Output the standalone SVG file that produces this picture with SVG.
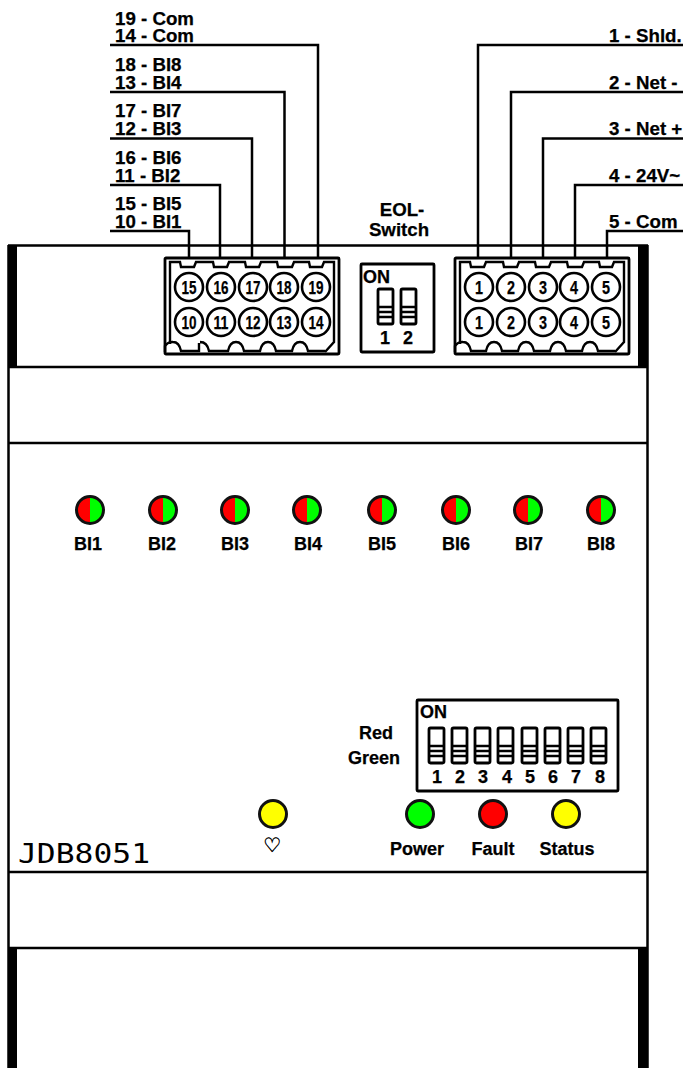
<svg xmlns="http://www.w3.org/2000/svg" width="687" height="1068" viewBox="0 0 687 1068">
<style>
text{font-family:"Liberation Sans",Arial,sans-serif;font-weight:bold;font-size:18px;fill:#000;stroke:#000;stroke-width:.25}
.w{font-size:18.7px}
.m{text-anchor:middle}
.l{fill:none;stroke:#000;stroke-width:2.5}
.h{fill:none;stroke:#000;stroke-width:2.4}
.c{fill:#fff;stroke:#000;stroke-width:2.6}
.d{fill:none;stroke:#000;stroke-width:2.8;stroke-linejoin:round}
.b{fill:#000}
.n{font-size:18.5px;text-anchor:middle}
.led{stroke:#111;stroke-width:3}
</style>
<defs>
<g id="tog"><rect class="d" x="0" y="0" width="15" height="35" rx="1.500"/><path d="M1 18h13M1 23h13M1 28h13" stroke="#000" stroke-width="2.400"/></g>
<g id="body">
<rect class="d" x="0" y="0" width="174" height="96" rx="1"/>
<path class="h" d="M5 86V4H15L16 9H29L31 4H48L49 9H62L64 4H80L81 9H94L96 4H112L113 9H127L129 4H144L145 9H157L159 4H169V84L160 94"/>
</g>
<g id="biled"><circle r="13.500" fill="#0f0"/><path d="M0-14A14 14 0 0 0 0 14Z" fill="#f00"/><circle r="13.500" fill="none" class="led"/></g>
</defs>
<g id="housing">
<rect class="b" x="8" y="245" width="9" height="122"/>
<rect class="b" x="638" y="245" width="10" height="122"/>
<rect class="b" x="8" y="948" width="9" height="120"/>
<rect class="b" x="638" y="948" width="10" height="120"/>
<path class="l" d="M8 245.500H648M8 367H648M8 443H648M8 872H648M8 948H648M8.500 245V1068M647.500 245V1068"/>
<text x="18" y="863" textLength="132" lengthAdjust="spacingAndGlyphs" style="font-family:'DejaVu Sans Mono',monospace;font-weight:normal;font-size:27px;stroke:none">JDB8051</text>
</g>
<g id="connectors">
<path class="l" d="M110 45H318V258M110 92H284.500V258M110 138.500H252V258M110 185H220V258M110 231H189V258"/>
<path class="l" d="M683 45H478V258M683 92H511V258M683 138.500H543V258M683 185H575V258M683 231H607V258"/>
</g>
<g id="wire-labels">
<text class="w" x="115" y="24.500">19 - Com</text><text class="w" x="115" y="42">14 - Com</text>
<text class="w" x="115" y="71">18 - BI8</text><text class="w" x="115" y="89">13 - BI4</text>
<text class="w" x="115" y="117">17 - BI7</text><text class="w" x="115" y="135">12 - BI3</text>
<text class="w" x="115" y="164">16 - BI6</text><text class="w" x="115" y="182">11 - BI2</text>
<text class="w" x="115" y="210">15 - BI5</text><text class="w" x="115" y="228">10 - BI1</text>
<text class="w" x="609" y="42">1 - Shld.</text><text class="w" x="609" y="89">2 - Net -</text>
<text class="w" x="609" y="135">3 - Net +</text><text class="w" x="609" y="182">4 - 24V~</text>
<text class="w" x="609" y="228">5 - Com</text>
</g>
<g id="terminal-left" transform="translate(165 258)">
<use href="#body"/>
<path class="h" d="M0 94V88A9 9 0 0 1 8 84C13 84 15 88 16 93H34V85M35 84C41 84 43 88 44 93H63C64 88 66 84 71 84C76 84 78 88 79 93H95C96 88 98 84 103 84C108 84 110 88 111 93H127C128 88 130 84 135 84C140 84 142 88 143 93H160"/>
<g class="c"><circle cx="24" cy="29" r="14"/><circle cx="56" cy="29" r="14"/><circle cx="88" cy="29" r="14"/><circle cx="119" cy="29" r="14"/><circle cx="151" cy="29" r="14"/><circle cx="24" cy="64" r="14"/><circle cx="56" cy="64" r="14"/><circle cx="88" cy="64" r="14"/><circle cx="119" cy="64" r="14"/><circle cx="151" cy="64" r="14"/></g>
<text class="n" x="24" y="36" textLength="15" lengthAdjust="spacingAndGlyphs">15</text><text class="n" x="56" y="36" textLength="15" lengthAdjust="spacingAndGlyphs">16</text><text class="n" x="88" y="36" textLength="15" lengthAdjust="spacingAndGlyphs">17</text><text class="n" x="119" y="36" textLength="15" lengthAdjust="spacingAndGlyphs">18</text><text class="n" x="151" y="36" textLength="15" lengthAdjust="spacingAndGlyphs">19</text>
<text class="n" x="24" y="71" textLength="15" lengthAdjust="spacingAndGlyphs">10</text><text class="n" x="56" y="71" textLength="15" lengthAdjust="spacingAndGlyphs">11</text><text class="n" x="88" y="71" textLength="15" lengthAdjust="spacingAndGlyphs">12</text><text class="n" x="119" y="71" textLength="15" lengthAdjust="spacingAndGlyphs">13</text><text class="n" x="151" y="71" textLength="15" lengthAdjust="spacingAndGlyphs">14</text>
</g>
<g id="terminal-right" transform="translate(455 258)">
<use href="#body"/>
<path class="h" d="M0 94V88A9 9 0 0 1 8 84C13 84 15 88 16 93H31C32 88 34 84 39 84C44 84 46 88 47 93H63C64 88 66 84 71 84C76 84 78 88 79 93H95C96 88 98 84 103 84C108 84 110 88 111 93H127C128 88 130 84 135 84C140 84 142 88 143 93H160"/>
<g class="c"><circle cx="24" cy="29" r="14"/><circle cx="56" cy="29" r="14"/><circle cx="88" cy="29" r="14"/><circle cx="119" cy="29" r="14"/><circle cx="151" cy="29" r="14"/><circle cx="24" cy="64" r="14"/><circle cx="56" cy="64" r="14"/><circle cx="88" cy="64" r="14"/><circle cx="119" cy="64" r="14"/><circle cx="151" cy="64" r="14"/></g>
<text class="n" x="24" y="36" textLength="8" lengthAdjust="spacingAndGlyphs">1</text><text class="n" x="56" y="36" textLength="8" lengthAdjust="spacingAndGlyphs">2</text><text class="n" x="88" y="36" textLength="8" lengthAdjust="spacingAndGlyphs">3</text><text class="n" x="119" y="36" textLength="8" lengthAdjust="spacingAndGlyphs">4</text><text class="n" x="151" y="36" textLength="8" lengthAdjust="spacingAndGlyphs">5</text>
<text class="n" x="24" y="71" textLength="8" lengthAdjust="spacingAndGlyphs">1</text><text class="n" x="56" y="71" textLength="8" lengthAdjust="spacingAndGlyphs">2</text><text class="n" x="88" y="71" textLength="8" lengthAdjust="spacingAndGlyphs">3</text><text class="n" x="119" y="71" textLength="8" lengthAdjust="spacingAndGlyphs">4</text><text class="n" x="151" y="71" textLength="8" lengthAdjust="spacingAndGlyphs">5</text>
</g>
<g id="eol-switch">
<text class="m w" x="402" y="216">EOL-</text><text class="m w" x="399" y="236">Switch</text>
<rect class="d" x="361" y="264" width="73" height="88" rx="1"/>
<text x="363" y="283">ON</text>
<use href="#tog" x="378" y="289"/><use href="#tog" x="401" y="289"/>
<text class="m" x="385" y="344">1</text><text class="m" x="408" y="344">2</text>
</g>
<g id="bi-leds">
<use id="led-bi1" href="#biled" x="90" y="510"/><use id="led-bi2" href="#biled" x="163" y="510"/><use id="led-bi3" href="#biled" x="235" y="510"/><use id="led-bi4" href="#biled" x="307" y="510"/><use id="led-bi5" href="#biled" x="382" y="510"/><use id="led-bi6" href="#biled" x="456" y="510"/><use id="led-bi7" href="#biled" x="528" y="510"/><use id="led-bi8" href="#biled" x="601" y="510"/>
<text class="m" x="88" y="550">BI1</text><text class="m" x="162" y="550">BI2</text><text class="m" x="235" y="550">BI3</text><text class="m" x="308" y="550">BI4</text><text class="m" x="382" y="550">BI5</text><text class="m" x="456" y="550">BI6</text><text class="m" x="529" y="550">BI7</text><text class="m" x="601" y="550">BI8</text>
</g>
<g id="dip-switch">
<text class="m" x="376" y="739">Red</text><text class="m" x="374" y="764">Green</text>
<rect class="d" x="417" y="700" width="201" height="91" rx="1"/>
<text x="420" y="718">ON</text>
<use href="#tog" x="429" y="728"/><use href="#tog" x="452" y="728"/><use href="#tog" x="475" y="728"/><use href="#tog" x="498" y="728"/><use href="#tog" x="522" y="728"/><use href="#tog" x="545" y="728"/><use href="#tog" x="568" y="728"/><use href="#tog" x="591" y="728"/>
<text class="m" x="437" y="783">1</text><text class="m" x="460" y="783">2</text><text class="m" x="483" y="783">3</text><text class="m" x="507" y="783">4</text><text class="m" x="530" y="783">5</text><text class="m" x="553" y="783">6</text><text class="m" x="576" y="783">7</text><text class="m" x="600" y="783">8</text>
</g>
<g id="led-heart"><circle class="led" cx="273" cy="814" r="13.500" fill="#ff0"/><text class="m" x="272" y="852" style="font-family:'DejaVu Sans',sans-serif;font-weight:normal;font-size:20px;stroke-width:.4">♡</text></g>
<g id="led-power"><circle class="led" cx="420" cy="814" r="13.500" fill="#0f0"/><text class="m" x="417" y="855">Power</text></g>
<g id="led-fault"><circle class="led" cx="493" cy="814" r="13.500" fill="#f00"/><text class="m" x="493" y="855">Fault</text></g>
<g id="led-status"><circle class="led" cx="566" cy="814" r="13.500" fill="#ff0"/><text class="m" x="567" y="855">Status</text></g>
</svg>
